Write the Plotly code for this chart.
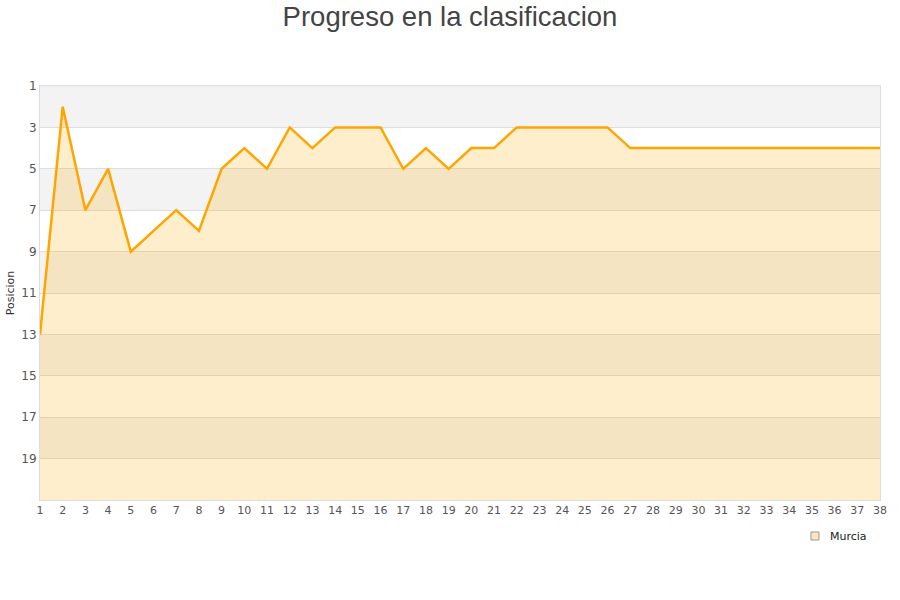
import plotly.graph_objects as go

jornadas = list(range(1, 39))
posiciones = [13, 2, 7, 5, 9, 8, 7, 8, 5, 4, 5, 3, 4, 3, 3, 3, 5, 4, 5, 4,
              4, 3, 3, 3, 3, 3, 4, 4, 4, 4, 4, 4, 4, 4, 4, 4, 4, 4]
equipo = "Murcia"
y_ticks = [1, 3, 5, 7, 9, 11, 13, 15, 17, 19]
band_starts = [1, 5, 9, 13, 17]

fig = go.Figure()

# fill down to bottom (position 21)
fig.add_trace(go.Scatter(
    x=jornadas, y=[21] * len(jornadas), mode="lines",
    line=dict(width=0), showlegend=False, hoverinfo="skip"))
fig.add_trace(go.Scatter(
    x=jornadas, y=posiciones, mode="lines", fill="tonexty",
    fillcolor="rgba(255,170,0,0.2)",
    line=dict(color="#FFA500", width=2.5), showlegend=False, name=equipo))

shapes = []
for s in band_starts:
    shapes.append(dict(type="rect", xref="paper", yref="y", x0=0, x1=1,
                       y0=s, y1=s + 2, fillcolor="#F3F3F3", line=dict(width=0),
                       layer="below"))
# legend swatch
shapes.append(dict(type="rect", xref="paper", yref="paper",
                   x0=(811 - 40) / 840, x1=(819 - 40) / 840,
                   y0=-(540 - 500) / 414, y1=-(532 - 500) / 414,
                   fillcolor="#FDE6BF", line=dict(color="#999999", width=1),
                   layer="above"))

fig.update_layout(
    width=900, height=600,
    margin=dict(l=40, r=20, t=86, b=100, autoexpand=False),
    paper_bgcolor="white", plot_bgcolor="white",
    title=dict(text="Progreso en la clasificacion", x=0.5, xanchor="center",
               yref="container", y=0.973, yanchor="middle",
               font=dict(family="Liberation Sans, Arial, sans-serif", size=27.5, color="#444444")),
    font=dict(family="DejaVu Sans, Verdana, sans-serif", size=11, color="#555555"),
    shapes=shapes,
    showlegend=False,
    annotations=[dict(text=equipo, xref="paper", yref="paper",
                      x=(828 - 40) / 840, y=-(536 - 500) / 414,
                      xanchor="left", yanchor="middle", showarrow=False,
                      font=dict(size=11, color="#222222"))],
    xaxis=dict(range=[1, 38], tickvals=jornadas, ticktext=[str(j) for j in jornadas],
               showgrid=False, zeroline=False, showline=True, linecolor="#DDDDDD",
               mirror=True, ticks="", ticklen=0, tickfont=dict(size=11),
               automargin=False),
    yaxis=dict(range=[21, 1], tickvals=y_ticks, showgrid=True, gridcolor="#DDDDDD",
               zeroline=False, showline=True, linecolor="#DDDDDD", mirror=True,
               ticks="", tickfont=dict(size=12), automargin=False,
               title=dict(text="Posicion", font=dict(size=11, color="#333333"), standoff=4)),
)

fig.write_html("out.html", config={"displayModeBar": False},
               post_script="document.body.style.margin='0';document.body.style.padding='0';")
